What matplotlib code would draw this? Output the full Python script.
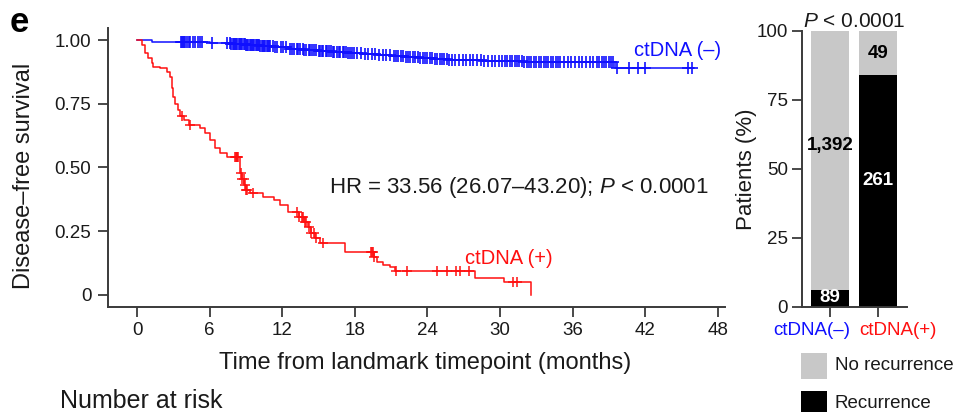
import numpy as np
import matplotlib

matplotlib.use("Agg")
import matplotlib.pyplot as plt
from matplotlib.patches import Rectangle

plt.rcParams["font.family"] = ["Liberation Sans", "DejaVu Sans"]
plt.rcParams["mathtext.fontset"] = "custom"
plt.rcParams["mathtext.rm"] = "Liberation Sans"
plt.rcParams["mathtext.it"] = "Liberation Sans:italic"

# Kaplan-Meier, ctDNA negative
neg_times = [0, 1.2, 6.0, 7.8, 9.0, 10.2, 11.4, 12.6, 13.8, 15.0, 16.2, 17.4, 18.6,
             19.8, 21.0, 22.2, 23.4, 24.6, 25.8, 27.0, 28.5, 30.0, 32.0, 34.5, 37.0, 39.5]
neg_surv = [1.0, 0.994, 0.99, 0.986, 0.981, 0.976, 0.971, 0.966, 0.962, 0.957, 0.952, 0.948,
            0.944, 0.940, 0.936, 0.932, 0.929, 0.926, 0.923, 0.921, 0.919, 0.917, 0.915,
            0.914, 0.913, 0.890]
neg_end = 46.0
neg_censor = [3.6, 3.7, 3.8, 3.9, 4.0, 4.1, 4.3, 4.4, 4.6, 4.8, 5.0, 5.2, 5.4, 6.2, 7.4,
              7.7, 7.8, 7.9, 8.0, 8.1, 8.2, 8.3, 8.4, 8.5, 8.6, 8.7, 8.8, 8.9, 9.0, 9.1,
              9.2, 9.3, 9.4, 9.5, 9.6, 9.7, 9.8, 9.9, 10.0, 10.1, 10.2, 10.3, 10.4, 10.5,
              10.6, 10.7, 10.8, 10.9, 11.0, 11.2, 11.4, 11.6, 11.9, 12.1, 12.3, 12.6,
              12.8, 13.0, 13.2, 13.3, 13.5, 13.7, 13.8, 14.0, 14.2, 14.3, 14.5, 14.6,
              14.8, 15.0, 15.1, 15.3, 15.4, 15.6, 15.7, 15.9, 16.0, 16.2, 16.3, 16.5,
              16.7, 16.8, 17.0, 17.1, 17.3, 17.4, 17.6, 17.8, 17.9, 18.2, 18.5, 18.8,
              19.1, 19.4, 19.7, 20.0, 20.3, 20.6, 20.9, 21.2, 21.4, 21.6, 21.8, 22.0,
              22.2, 22.4, 22.6, 22.8, 23.0, 23.2, 23.4, 23.6, 23.8, 24.0, 24.2, 24.4,
              24.6, 24.8, 25.0, 25.2, 25.4, 25.6, 25.8, 26.0, 26.3, 26.6, 26.9, 27.2,
              27.5, 27.8, 28.1, 28.4, 28.7, 29.0, 29.3, 29.6, 29.9, 30.2, 30.4, 30.6,
              30.8, 31.0, 31.2, 31.4, 31.6, 31.8, 32.0, 32.2, 32.4, 32.6, 32.8, 33.0,
              33.2, 33.4, 33.6, 33.8, 34.0, 34.2, 34.4, 34.6, 34.8, 35.0, 35.3, 35.6,
              35.9, 36.2, 36.5, 36.8, 37.1, 37.4, 37.7, 38.0, 38.2, 38.4, 38.6, 38.8,
              39.0, 39.2, 39.3, 39.7, 40.7, 41.4, 42.0, 45.5, 45.9]

# Kaplan-Meier, ctDNA positive
pos_times = [0, 0.4, 0.65, 0.93, 1.2, 1.35, 1.9, 2.45, 2.7, 2.85, 3.0, 3.1, 3.4, 3.55,
             3.9, 4.3, 5.2, 5.6, 6.0, 6.45, 6.85, 7.4, 8.5, 8.7, 8.85, 9.0, 9.3, 10.4,
             11.3, 11.8, 12.5, 13.4, 13.8, 14.1, 14.4, 14.7, 15.1, 17.2, 19.6, 19.8,
             20.3, 20.9, 21.3, 27.9, 30.3, 32.6]
pos_surv = [1.0, 0.98, 0.948, 0.928, 0.908, 0.895, 0.889, 0.876, 0.856, 0.81, 0.778,
            0.75, 0.725, 0.70, 0.685, 0.667, 0.653, 0.634, 0.608, 0.575, 0.556, 0.542,
            0.477, 0.455, 0.43, 0.41, 0.40, 0.386, 0.373, 0.353, 0.327, 0.305, 0.285,
            0.265, 0.245, 0.225, 0.203, 0.17, 0.15, 0.13, 0.118, 0.111, 0.095, 0.068,
            0.052, 0.0]
pos_censor = [3.7, 4.4, 8.1, 8.2, 8.25, 8.3, 8.35, 8.6, 8.7, 8.8, 8.9, 9.0, 9.1, 9.6,
              13.2, 13.4, 13.6, 13.7, 13.9, 14.0, 14.2, 14.4, 14.6, 14.8, 15.4, 19.3,
              19.4, 19.5, 19.6, 21.4, 22.3, 24.8, 25.6, 26.4, 26.7, 27.4, 31.1, 31.4]

x_ticks = [0, 6, 12, 18, 24, 30, 36, 42, 48]
y_ticks = [0, 0.25, 0.5, 0.75, 1.0]
y_ticklabels = ["0", "0.25", "0.50", "0.75", "1.00"]

# stacked bars
groups = ["ctDNA(–)", "ctDNA(+)"]
recurrence = [89, 261]
no_recurrence = [1392, 49]

BLUE = "#1010ff"
RED = "#ff1010"
GRAY = "#c8c8c8"
TXT = "#1a1a1a"
SPINE = "#3a3a3a"


def step_value(times, surv, t):
    idx = np.searchsorted(times, t, side="right") - 1
    return np.asarray(surv)[idx]


def style_axis(ax):
    ax.spines["top"].set_visible(False)
    ax.spines["right"].set_visible(False)
    for s in ("left", "bottom"):
        ax.spines[s].set_color(SPINE)
        ax.spines[s].set_linewidth(1.4)
    ax.tick_params(length=7, width=1.3, color=SPINE, labelsize=13.5, labelcolor=TXT)


fig = plt.figure(figsize=(9.57, 4.12), dpi=100)

ax = fig.add_axes([0.1129, 0.2549, 0.6447, 0.6771])
ax.step(neg_times + [neg_end], neg_surv + [neg_surv[-1]], where="post", color=BLUE, lw=1.1)
ax.step(pos_times, pos_surv, where="post", color=RED, lw=1.1)
ax.plot(neg_censor, step_value(neg_times, neg_surv, neg_censor), ls="none",
        marker="+", ms=8.5, mew=1.2, color=BLUE)
ax.plot(pos_censor, step_value(pos_times, pos_surv, pos_censor), ls="none",
        marker="+", ms=7.5, mew=1.1, color=RED)
ax.set_xlim(-2.4, 48.6)
ax.set_ylim(-0.047, 1.047)
ax.set_xticks(x_ticks)
ax.set_yticks(y_ticks)
ax.set_yticklabels(y_ticklabels)
style_axis(ax)
ax.tick_params(axis="x", pad=4)
ax.tick_params(axis="y", pad=5)
ax.set_xlabel("Time from landmark timepoint (months)", fontsize=17, color=TXT)
ax.xaxis.set_label_coords(0.514, -0.16)
ax.set_ylabel("Disease\u2013free survival", fontsize=17, color=TXT)
ax.yaxis.set_label_coords(-0.118, 0.47)
ax.text(41.1, 0.96, "ctDNA (\u2013)", color=BLUE, fontsize=14.5, va="center")
ax.text(27.1, 0.145, "ctDNA (+)", color=RED, fontsize=14.5, va="center")
ax.text(15.9, 0.42, "HR = 33.56 (26.07\u201343.20); $\\it{P}$ < 0.0001", color=TXT,
        fontsize=16, va="center")

total = np.array(recurrence) + np.array(no_recurrence)
rec_pct = np.array(recurrence) / total * 100
norec_pct = np.array(no_recurrence) / total * 100
xpos = np.arange(len(groups))

bx = fig.add_axes([0.838, 0.2549, 0.1097, 0.6699])
bx.bar(xpos, rec_pct, width=0.8, color="black")
bx.bar(xpos, norec_pct, width=0.8, bottom=rec_pct, color=GRAY)
bx.set_xlim(-0.58, 1.6)
bx.set_ylim(0, 100)
bx.set_yticks([0, 25, 50, 75, 100])
bx.set_xticks(xpos)
bx.set_xticklabels([])
style_axis(bx)
bx.tick_params(axis="y", pad=3)
for xp, lab, c, dx in zip(xpos, groups, [BLUE, RED], [-0.38, 0.42]):
    bx.text(xp + dx, -8.5, lab, color=c, fontsize=13.5, ha="center", va="center",
            transform=bx.transData, clip_on=False)
bx.set_ylabel("Patients (%)", fontsize=16, color=TXT)
bx.yaxis.set_label_coords(-0.43, 0.5)
bx.set_title("$\\it{P}$ < 0.0001", fontsize=15, color=TXT, pad=2)

bx.text(0, 3.6, f"{recurrence[0]}", ha="center", va="center", color="white",
        fontsize=13.5, fontweight="bold")
bx.text(0, 58.5, f"{no_recurrence[0]:,}", ha="center", va="center", color="black",
        fontsize=13.5, fontweight="bold")
bx.text(1, 46, f"{recurrence[1]}", ha="center", va="center", color="white",
        fontsize=13.5, fontweight="bold")
bx.text(1, 92, f"{no_recurrence[1]}", ha="center", va="center", color="black",
        fontsize=13.5, fontweight="bold")

# legend swatches
fig.add_artist(Rectangle((801 / 957, 1 - 379 / 412), 26 / 957, 26 / 412,
                         transform=fig.transFigure, color=GRAY, lw=0))
fig.add_artist(Rectangle((801 / 957, 1 - 417 / 412), 26 / 957, 26 / 412,
                         transform=fig.transFigure, color="black", lw=0))
fig.text(835 / 957, 1 - 366 / 412, "No recurrence", fontsize=13.5, color=TXT, va="center")
fig.text(835 / 957, 1 - 404 / 412, "Recurrence", fontsize=13.5, color=TXT, va="center")

fig.text(10 / 957, 1 - 22 / 412, "e", fontsize=25, fontweight="bold", color="black",
         va="center")
fig.text(60 / 957, 1 - 401 / 412, "Number at risk", fontsize=18, color=TXT, va="center")

fig.savefig("out.png", dpi=100)
